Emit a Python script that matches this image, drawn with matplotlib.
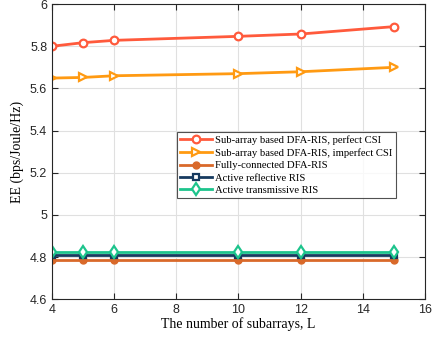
import matplotlib
matplotlib.use('Agg')
from matplotlib import pyplot as plt
import numpy as np

# number of subarrays
L = [4, 5, 6, 10, 12, 15]

ee_perfect = [5.800, 5.817, 5.828, 5.847, 5.858, 5.893]
ee_imperfect = [5.649, 5.652, 5.660, 5.670, 5.679, 5.700]
ee_fully = [4.786, 4.786, 4.786, 4.786, 4.786, 4.786]
ee_reflective = [4.808, 4.808, 4.808, 4.808, 4.808, 4.808]
ee_transmissive = [4.822, 4.822, 4.822, 4.822, 4.822, 4.822]

labels = [
    'Sub-array based DFA-RIS, perfect CSI',
    'Sub-array based DFA-RIS, imperfect CSI',
    'Fully-connected DFA-RIS',
    'Active reflective RIS',
    'Active transmissive RIS',
]

serif = ['Liberation Serif', 'DejaVu Serif']
sans = ['Liberation Sans', 'DejaVu Sans']

fig = plt.figure(figsize=(4.34, 3.40), dpi=100)
ax = fig.add_axes([0.12, 0.12, 0.859, 0.868])

ax.plot(L, ee_perfect, color='#ff5a3c', lw=2, marker='o', ms=5.5,
        mfc='white', mec='#ff5a3c', mew=1.6, label=labels[0])
ax.plot(L, ee_imperfect, color='#ff9a12', lw=2, marker='>', ms=6,
        mfc='white', mec='#ff9a12', mew=1.6, label=labels[1])
ax.plot(L, ee_fully, color='#d9692a', lw=2, marker='o', ms=5,
        mfc='#d9692a', mec='#d9692a', label=labels[2])
ax.plot(L, ee_reflective, color='#163a5f', lw=2, marker='s', ms=4.5,
        mfc='white', mec='#163a5f', mew=1.6, label=labels[3])
ax.plot(L, ee_transmissive, color='#1dc48c', lw=2, marker='d', ms=6,
        mfc='white', mec='#1dc48c', mew=1.6, label=labels[4])

ax.set_xlim(4, 16)
ax.set_ylim(4.6, 6.0)
ax.set_xticks(np.arange(4, 17, 2))
ax.set_yticks(np.arange(4.6, 6.01, 0.2))
ax.set_yticklabels(['4.6', '4.8', '5', '5.2', '5.4', '5.6', '5.8', '6'])
ax.grid(True, color='#e0e0e0', lw=0.8)
ax.set_axisbelow(True)
ax.tick_params(direction='in', top=True, right=True, length=4, labelsize=9,
               colors='#262626')
for lab in ax.get_xticklabels() + ax.get_yticklabels():
    lab.set_family(sans)
for s in ax.spines.values():
    s.set_color('#262626')
    s.set_linewidth(0.8)

ax.set_xlabel('The number of subarrays, L', family=serif, fontsize=10, labelpad=1)
ax.set_ylabel('EE (bps/Joule/Hz)', family=serif, fontsize=10, labelpad=4)

leg = ax.legend(loc='upper left', bbox_to_anchor=(0.335, 0.566),
                prop={'family': serif, 'size': 7.7}, frameon=True, fancybox=False,
                edgecolor='#262626', handlelength=3.0, borderpad=0.3,
                labelspacing=0.28, handletextpad=0.3, borderaxespad=0)
leg.get_frame().set_linewidth(0.8)

fig.savefig('out.png', dpi=100)
